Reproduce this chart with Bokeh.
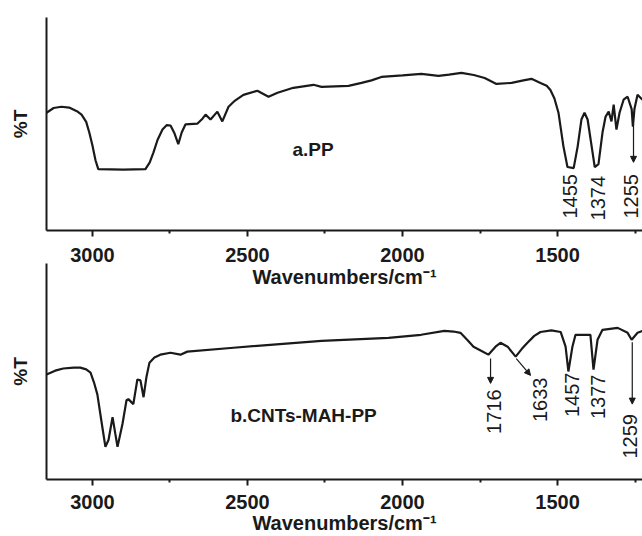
import numpy as np
from bokeh.plotting import figure
from bokeh.layouts import column
from bokeh.models import Range1d, FixedTicker, Arrow, NormalHead
from bokeh.embed import file_html
from bokeh.resources import INLINE
from bokeh.core.properties import value

# ---------------- data: panel a (PP) ----------------
wn_a = [3148, 3125, 3100, 3075, 3050, 3035, 3020, 3010, 3000, 2990, 2981, 2900, 2829,
        2815, 2803, 2790, 2774, 2760, 2748, 2735, 2723, 2712, 2700, 2661, 2645, 2635,
        2619, 2597, 2581, 2561, 2540, 2513, 2468, 2432, 2403, 2352, 2287, 2261, 2174,
        2132, 2100, 2068, 2000, 1939, 1884, 1850, 1810, 1770, 1735, 1697, 1648, 1610,
        1584, 1555, 1535, 1523, 1510, 1497, 1481, 1468, 1448, 1435, 1423, 1413, 1403,
        1390, 1380, 1368, 1355, 1345, 1335, 1326, 1319, 1310, 1300, 1287, 1274, 1261,
        1257, 1252, 1242, 1226]
t_a = [55.3, 57.5, 58.1, 57.7, 56.0, 54.4, 51.0, 46.0, 40.0, 33.0, 28.8, 28.6, 28.8,
       32.0, 36.7, 42.5, 47.4, 49.5, 49.3, 45.5, 40.5, 46.0, 49.8, 50.2, 52.5, 54.4,
       52.1, 55.8, 51.2, 58.1, 61.0, 63.7, 65.6, 62.8, 64.7, 67.0, 68.4, 67.4, 67.9,
       69.3, 70.5, 72.1, 72.8, 73.5, 72.6, 73.2, 74.0, 73.0, 71.6, 68.8, 69.3, 70.5,
       71.2, 69.3, 68.0, 66.0, 62.0, 55.3, 39.5, 29.8, 29.3, 39.5, 52.1, 55.3, 52.1,
       39.5, 29.8, 31.2, 46.0, 53.5, 55.8, 51.2, 59.1, 47.4, 55.3, 61.4, 62.8, 57.0,
       48.8, 57.0, 63.7, 61.4]

# ---------------- data: panel b (CNTs-MAH-PP) ----------------
wn_b = [3148, 3120, 3094, 3060, 3039, 3020, 3006, 2995, 2984, 2968, 2958, 2948, 2935,
        2926, 2919, 2903, 2890, 2884, 2868, 2855, 2845, 2835, 2826, 2816, 2800, 2781,
        2748, 2716, 2694, 2545, 2261, 2045, 1940, 1865, 1835, 1813, 1790, 1771, 1745,
        1723, 1700, 1684, 1661, 1635, 1615, 1597, 1575, 1555, 1520, 1490, 1474, 1465,
        1452, 1442, 1394, 1384, 1371, 1355, 1306, 1274, 1261, 1242, 1226]
t_b = [48.6, 50.4, 51.4, 51.8, 51.8, 51.0, 49.5, 45.0, 39.4, 24.3, 15.1, 18.3, 28.9,
       21.1, 15.1, 25.7, 36.7, 37.2, 34.9, 46.3, 45.9, 38.1, 47.2, 54.1, 56.5, 57.8,
       58.7, 57.8, 59.2, 61.0, 64.2, 65.6, 67.0, 68.8, 68.5, 67.9, 64.5, 61.5, 59.5,
       57.8, 61.5, 63.3, 61.5, 56.9, 60.5, 63.3, 66.5, 68.3, 69.0, 68.3, 61.5, 50.0,
       61.5, 67.0, 67.0, 50.9, 64.7, 69.3, 70.2, 67.9, 64.7, 67.9, 68.8]

# peak labels
peaks_a = [1455, 1374, 1255]
peaks_b = [1716, 1633, 1457, 1377, 1259]

x_ticks = [3000, 2500, 2000, 1500]
x_minor = [2750, 2250, 1750, 1250]
x_title = "Wavenumbers/cm\u207b\u00b9"

FONT = "Liberation Sans"
INK = "#1a1a1a"
XR = (3148, 1226)


def style(p, label_standoff, title_standoff):
    p.outline_line_color = None
    p.xgrid.visible = False
    p.ygrid.visible = False
    ax = p.xaxis[0]
    ax.ticker = FixedTicker(ticks=x_ticks, minor_ticks=x_minor)
    ax.axis_line_width = 2
    ax.axis_line_color = INK
    ax.major_tick_in = 0
    ax.major_tick_out = 6
    ax.minor_tick_in = 0
    ax.minor_tick_out = 3
    ax.major_tick_line_width = 2
    ax.minor_tick_line_width = 2
    ax.major_tick_line_color = INK
    ax.minor_tick_line_color = INK
    ax.major_label_text_font = FONT
    ax.major_label_text_font_style = "bold"
    ax.major_label_text_font_size = "20px"
    ax.major_label_text_color = INK
    ax.major_label_standoff = label_standoff
    ax.axis_label = x_title
    ax.axis_label_text_font = FONT
    ax.axis_label_text_font_style = "bold"
    ax.axis_label_text_font_size = "20px"
    ax.axis_label_text_color = INK
    ax.axis_label_standoff = title_standoff
    ay = p.yaxis[0]
    ay.ticker = FixedTicker(ticks=[])
    ay.axis_line_width = 2
    ay.axis_line_color = INK
    ay.major_tick_in = 0
    ay.major_tick_out = 0
    ay.minor_tick_in = 0
    ay.minor_tick_out = 0
    ay.axis_label = "%T"
    ay.axis_label_text_font = FONT
    ay.axis_label_text_font_style = "bold"
    ay.axis_label_text_font_size = "19px"
    ay.axis_label_text_color = INK
    ay.axis_label_standoff = 16


def peak_labels(p, xs, ys, texts):
    p.text(x=xs, y=ys, text=texts, angle=np.pi / 2,
           text_align="right", text_baseline="middle", text_font=value(FONT),
           text_font_size=value("20px"), text_color=INK)


def arrow(p, xs, ys, xe, ye):
    p.add_layout(Arrow(end=NormalHead(size=6, fill_color=INK, line_color=INK),
                       x_start=xs, y_start=ys, x_end=xe, y_end=ye,
                       line_width=1.2, line_color=INK))


# ---------------- panel a ----------------
p1 = figure(width=642, height=290, x_range=Range1d(*XR), y_range=Range1d(0, 100),
            output_backend="svg", toolbar_location=None,
            min_border_left=46, min_border_right=0, min_border_top=17, min_border_bottom=58)
style(p1, 11, 1)
p1.line(wn_a, t_a, line_width=2.2, line_color=INK)
p1.text(x=[2355], y=[38.1], text=["a.PP"], text_font=value(FONT), text_font_style="bold",
        text_font_size=value("19px"), text_baseline="middle", text_align="left", text_color=INK)
shift_a = [6, -3, 8]
peak_labels(p1, [v + d for v, d in zip(peaks_a, shift_a)], [26.5, 25.6, 26.5],
            [str(v) for v in peaks_a])
arrow(p1, peaks_a[2], 50, peaks_a[2], 32)

# ---------------- panel b (its transparent canvas overlaps panel a's bottom strip) ----------------
p2 = figure(width=642, height=273, x_range=Range1d(*XR), y_range=Range1d(0, 100),
            output_backend="svg", toolbar_location=None,
            min_border_left=46, min_border_right=0, min_border_top=0, min_border_bottom=55)
style(p2, 9, 0)
p2.margin = (-27, 0, 0, 0)
p2.background_fill_alpha = 0
p2.border_fill_alpha = 0
p2.line(wn_b, t_b, line_width=2.2, line_color=INK)
p2.text(x=[2555], y=[29.4], text=["b.CNTs-MAH-PP"], text_font=value(FONT), text_font_style="bold",
        text_font_size=value("19px"), text_baseline="middle", text_align="left", text_color=INK)
shift_b = [-10, -75, -5, -9, 6]
peak_labels(p2, [v + d for v, d in zip(peaks_b, shift_b)], [41.7, 47.2, 49.5, 48.6, 30.3],
            [str(v) for v in peaks_b])
arrow(p2, peaks_b[0], 56.0, peaks_b[0], 44.5)
arrow(p2, peaks_b[1], 56.0, 1587, 48.2)
arrow(p2, peaks_b[4], 63.5, peaks_b[4], 34.9)

layout = column(p1, p2, spacing=0)
open("out.html", "w").write(file_html(layout, INLINE))
